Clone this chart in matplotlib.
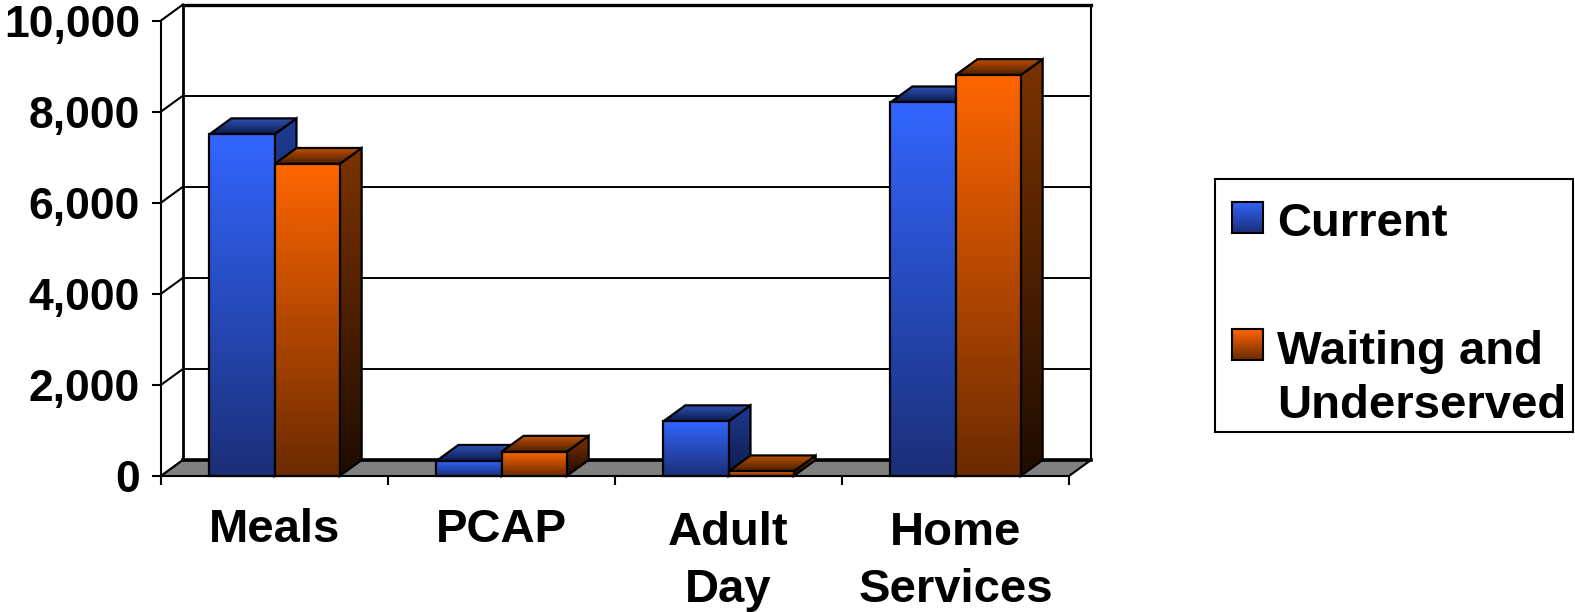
import numpy as np
import matplotlib
matplotlib.use('Agg')
import matplotlib.pyplot as plt
from matplotlib.patches import Polygon, Rectangle
from matplotlib.colors import LinearSegmentedColormap

categories = ["Meals", "PCAP", "Adult\nDay", "Home\nServices"]
current = [7500, 330, 1200, 8200]
waiting = [6850, 530, 100, 8800]
series_names = ["Current", "Waiting and\nUnderserved"]
yticks = [0, 2000, 4000, 6000, 8000, 10000]

plt.rcParams['font.family'] = ['Liberation Sans', 'DejaVu Sans']

W, H = 1575, 612
fig = plt.figure(figsize=(15.75, 6.12), dpi=100)
fig.patch.set_facecolor('white')

px_left, px_right = 161, 1069
px_y0, px_y10 = 476, 20.5
ax = fig.add_axes([px_left / W, 1 - px_y0 / H, (px_right - px_left) / W, (px_y0 - px_y10) / H])
ax.patch.set_visible(False)
ncat = len(categories)
ymax = yticks[-1]

DX = 22 / ((px_right - px_left) / ncat)
DY = 16 / ((px_y0 - px_y10) / ymax)
BW = 0.287


def grad_poly(verts, ctop, cbot, z, lw=1.6):
    poly = Polygon(verts, closed=True, facecolor='none', edgecolor='black',
                   lw=lw, zorder=z + 0.1, clip_on=False, joinstyle='miter')
    ax.add_patch(poly)
    xs = [v[0] for v in verts]
    ys = [v[1] for v in verts]
    cmap = LinearSegmentedColormap.from_list('g', [cbot, ctop])
    grad = np.linspace(1, 0, 256).reshape(-1, 1)
    im = ax.imshow(grad, cmap=cmap, vmin=0, vmax=1,
                   extent=[min(xs), max(xs), min(ys), max(ys)],
                   aspect='auto', origin='upper', zorder=z,
                   interpolation='bilinear')
    im.set_clip_path(poly)


# back wall gridlines and walls
for t in yticks:
    if 0 < t < ymax:
        ax.plot([DX, ncat + DX], [t + DY, t + DY], color='black', lw=1.4,
                zorder=0.5, clip_on=False, solid_capstyle='butt')
    ax.plot([0, DX], [t, t + DY], color='black', lw=1.5, zorder=0.5, clip_on=False)
ax.plot([DX, ncat + DX], [ymax + DY, ymax + DY], color='black', lw=2.4,
        zorder=0.6, clip_on=False, solid_capstyle='projecting')
ax.plot([DX, DX], [DY, ymax + DY], color='black', lw=2.0, zorder=0.6, clip_on=False)
ax.plot([ncat + DX, ncat + DX], [DY, ymax + DY], color='black', lw=1.5,
        zorder=0.6, clip_on=False)

# floor
floor = Polygon([(0, 0), (ncat, 0), (ncat + DX, DY), (DX, DY)], closed=True,
                facecolor='#808080', edgecolor='black', lw=1.5, zorder=1, clip_on=False)
ax.add_patch(floor)
ax.plot([DX, ncat + DX], [DY, DY], color='black', lw=2.6, zorder=1.1, clip_on=False)

styles = [
    dict(front=('#3366FF', '#1B2F78'), side=('#1F3A8F', '#0E1B4D'), top=('#2E52B8', '#0B1A48')),
    dict(front=('#FF6600', '#6B2A00'), side=('#7D3300', '#1E0C00'), top=('#C05000', '#4A1E00')),
]

z = 2
for i in range(ncat):
    xc = i + 0.5
    for s, vals in enumerate([current, waiting]):
        v = vals[i]
        x0 = xc - BW + s * BW
        x1 = x0 + BW
        st = styles[s]
        grad_poly([(x1, 0), (x1 + DX, DY), (x1 + DX, v + DY), (x1, v)], *st['side'], z)
        grad_poly([(x0, v), (x1, v), (x1 + DX, v + DY), (x0 + DX, v + DY)], *st['top'], z + 0.2)
        grad_poly([(x0, 0), (x1, 0), (x1, v), (x0, v)], *st['front'], z + 0.4)
        z += 1

ax.set_xlim(0, ncat)
ax.set_ylim(0, ymax)

for side in ['top', 'right', 'bottom']:
    ax.spines[side].set_visible(False)
ax.spines['left'].set_linewidth(1.5)
ax.spines['left'].set_zorder(1.2)

ax.set_yticks(yticks)
ax.set_yticklabels([f"{t:,}" for t in yticks], fontsize=32, fontweight='bold')
ax.tick_params(axis='y', length=6.5, width=1.5, pad=8.5, direction='out')
ax.set_xticks(range(ncat + 1))
ax.set_xticklabels([])
ax.tick_params(axis='x', length=6.5, width=1.5, direction='out')

for i, lab in enumerate(categories):
    off = -23 if '\n' not in lab else -25.5
    ax.annotate(lab, xy=(i + 0.5, 0), xycoords='data', xytext=(0, off),
                textcoords='offset points', ha='center', va='top',
                fontsize=34, fontweight='bold', linespacing=1.36,
                annotation_clip=False)

# legend
fig.patches.append(Rectangle((1215 / W, 1 - 432 / H), (1573 - 1215) / W, (432 - 179) / H,
                             transform=fig.transFigure, facecolor='white',
                             edgecolor='black', lw=1.5, zorder=5))
marker_y = [202, 329]
text_y = [202, 330]
for s, name in enumerate(series_names):
    my = marker_y[s]
    max_ = fig.add_axes([1232 / W, 1 - (my + 31) / H, 31 / W, 31 / H], zorder=6)
    ctop, cbot = styles[s]['front']
    cmap = LinearSegmentedColormap.from_list('lg', [cbot, ctop])
    max_.imshow(np.linspace(1, 0, 64).reshape(-1, 1), cmap=cmap, aspect='auto',
                origin='upper', interpolation='bilinear', vmin=0, vmax=1)
    max_.set_xticks([]); max_.set_yticks([])
    for sp in max_.spines.values():
        sp.set_linewidth(1.5)
    fig.text(1277 / W, 1 - text_y[s] / H, name, ha='left', va='top',
             fontsize=34, fontweight='bold', linespacing=1.30, zorder=7)

fig.savefig('out.png', dpi=100, facecolor='white')
